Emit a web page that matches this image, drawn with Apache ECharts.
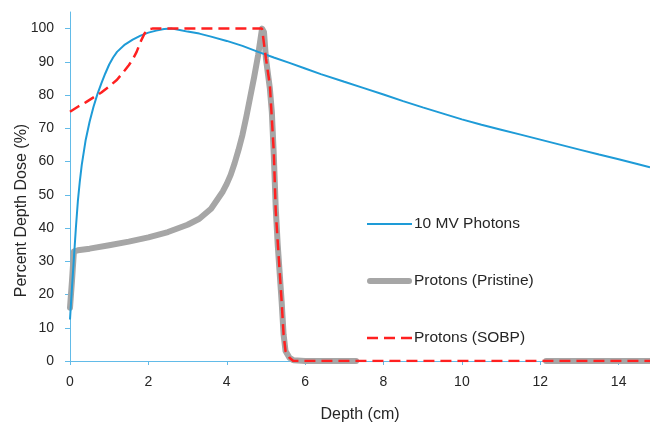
<!DOCTYPE html>
<html>
<head>
<meta charset="utf-8">
<script src="https://cdn.jsdelivr.net/npm/echarts@6/dist/echarts.min.js"></script>
<style>html,body{margin:0;padding:0;background:#fff}#c{width:650px;height:426px}</style>
</head>
<body>
<div id="c"></div>
<script>
var seriesNames = ['10 MV Photons', 'Protons (Pristine)', 'Protons (SOBP)'];

var photonDepth = [0, 0.05, 0.1, 0.15, 0.2, 0.25, 0.3, 0.4, 0.5, 0.6, 0.7, 0.8, 0.9, 1.0, 1.1, 1.2, 1.4, 1.6, 1.8, 2.0, 2.2, 2.4, 2.6, 2.8, 3.0, 3.3, 3.6, 4.0, 4.4, 4.8, 5.2, 5.6, 6.0, 6.4, 7, 7.5, 8, 8.5, 9, 9.5, 10, 10.5, 11, 11.5, 12, 12.5, 13, 13.5, 14, 14.5, 14.8];
var photonDose = [12.5, 22, 31, 40, 48, 54, 59, 66.5, 72, 76.5, 80.3, 83.5, 86.5, 89.2, 91.3, 93, 95.2, 96.7, 97.9, 98.8, 99.4, 99.9, 100, 99.6, 99.1, 98.5, 97.6, 96.3, 94.8, 93.0, 91.3, 89.7, 88.0, 86.3, 84.0, 82.1, 80.2, 78.2, 76.3, 74.5, 72.7, 71.1, 69.6, 68.1, 66.6, 65.1, 63.6, 62.1, 60.7, 59.2, 58.3];

var pristineDepth = [0, 0.05, 0.1, 0.2, 0.5, 1.0, 1.5, 2.0, 2.5, 3.0, 3.3, 3.6, 3.9, 4.0, 4.1, 4.2, 4.3, 4.4, 4.5, 4.6, 4.7, 4.8, 4.9, 4.95, 5.0, 5.1, 5.15, 5.2, 5.25, 5.3, 5.4, 5.45, 5.5, 5.6, 5.7, 6, 7, 7.3, 9, 12.15, 13, 14.8];
var pristineDose = [16, 24, 33, 33.3, 33.8, 34.8, 35.9, 37.2, 38.8, 41, 42.8, 45.8, 51, 53.3, 56, 59.5, 63.5, 68, 73.5, 79.5, 85.5, 92, 100, 99, 91, 82, 75, 62, 46, 35, 18, 8, 3, 1, 0.2, 0, 0, 0, null, 0, 0, 0];

var sobpDepth = [0, 0.2, 0.4, 0.6, 0.8, 1.0, 1.2, 1.4, 1.5, 1.6, 1.7, 1.8, 1.9, 2.0, 2.1, 4.9, 5.0, 5.1, 5.2, 5.25, 5.3, 5.4, 5.45, 5.5, 5.6, 5.7, 14.8];
var sobpDose = [75, 76.5, 77.8, 79.3, 80.8, 82.6, 84.6, 87.5, 89, 90.7, 93, 96, 98.5, 99.8, 100, 100, 91, 83, 63, 45, 36, 18, 8, 3, 1, 0, 0];

var xTicks = [0, 2, 4, 6, 8, 10, 12, 14];
var yTicks = [0, 10, 20, 30, 40, 50, 60, 70, 80, 90, 100];

function pairs(xs, ys) {
  return xs.map(function (x, i) { return [x, ys[i] === null ? '-' : ys[i]]; });
}

var FONT = 'Liberation Sans';
var TXT = '#262626';
var axisBlue = '#62bbe8';
var colors = ['#1e9bd7', '#a6a6a6', '#ff2020'];
var icons = [
  'path://M0,0H45V2H0Z',
  'path://M3,0H42A3,3 0 0 1 42,6H3A3,3 0 0 1 3,0Z',
  'path://M0,0H11V2.5H0ZM17,0H28V2.5H17ZM34,0H45V2.5H34Z'
];

var chart = echarts.init(document.getElementById('c'), null, {renderer: 'canvas'});
chart.setOption({
  animation: false,
  backgroundColor: '#ffffff',
  textStyle: {fontFamily: FONT},
  grid: {left: 70, right: 0, top: 12, bottom: 65, containLabel: false, outerBoundsMode: 'none'},
  legend: {
    data: seriesNames.map(function (n, i) {
      return {name: n, icon: icons[i], itemStyle: {color: colors[i], borderWidth: 0}};
    }),
    orient: 'vertical',
    left: 367,
    top: 216,
    padding: 0,
    itemGap: 41,
    itemWidth: 45,
    itemHeight: 14,
    itemStyle: {borderWidth: 0},
    textStyle: {fontFamily: FONT, fontSize: 15.5, color: TXT, padding: [0, 0, 0, -3]}
  },
  xAxis: {
    type: 'value',
    min: 0,
    max: 14.8,
    interval: 2,
    name: 'Depth (cm)',
    nameLocation: 'middle',
    nameGap: 46,
    nameMoveOverlap: false,
    nameTextStyle: {fontFamily: FONT, fontSize: 16, color: TXT},
    axisLine: {show: true, onZero: false, lineStyle: {color: axisBlue, width: 1}},
    axisTick: {show: true, length: 4, customValues: xTicks, lineStyle: {color: axisBlue}},
    splitLine: {show: false},
    axisLabel: {
      fontFamily: FONT, fontSize: 14, color: TXT, margin: 14, customValues: xTicks
    }
  },
  yAxis: {
    type: 'value',
    min: 0,
    max: 105,
    interval: 10,
    name: 'Percent Depth Dose (%)',
    nameLocation: 'middle',
    nameGap: 40,
    nameMoveOverlap: false,
    nameTextStyle: {fontFamily: FONT, fontSize: 16, color: TXT, padding: [0, 48, 0, 0]},
    axisLine: {show: true, lineStyle: {color: axisBlue, width: 1}},
    axisTick: {show: true, length: 5, customValues: yTicks, lineStyle: {color: axisBlue}},
    splitLine: {show: false},
    axisLabel: {
      fontFamily: FONT, fontSize: 14, color: TXT, margin: 16, customValues: yTicks
    }
  },
  series: [
    {
      name: seriesNames[0],
      type: 'line',
      z: 3,
      symbol: 'none',
      showSymbol: false,
      data: pairs(photonDepth, photonDose),
      lineStyle: {color: colors[0], width: 2},
      itemStyle: {color: colors[0]}
    },
    {
      name: seriesNames[1],
      type: 'line',
      z: 2,
      symbol: 'none',
      showSymbol: false,
      connectNulls: false,
      data: pairs(pristineDepth, pristineDose),
      lineStyle: {color: colors[1], width: 6, cap: 'round', join: 'round'},
      itemStyle: {color: colors[1]}
    },
    {
      name: seriesNames[2],
      type: 'line',
      z: 4,
      symbol: 'none',
      showSymbol: false,
      data: pairs(sobpDepth, sobpDose),
      lineStyle: {color: colors[2], width: 2.5, type: [11, 6]},
      itemStyle: {color: colors[2]}
    }
  ]
});
</script>
</body>
</html>
